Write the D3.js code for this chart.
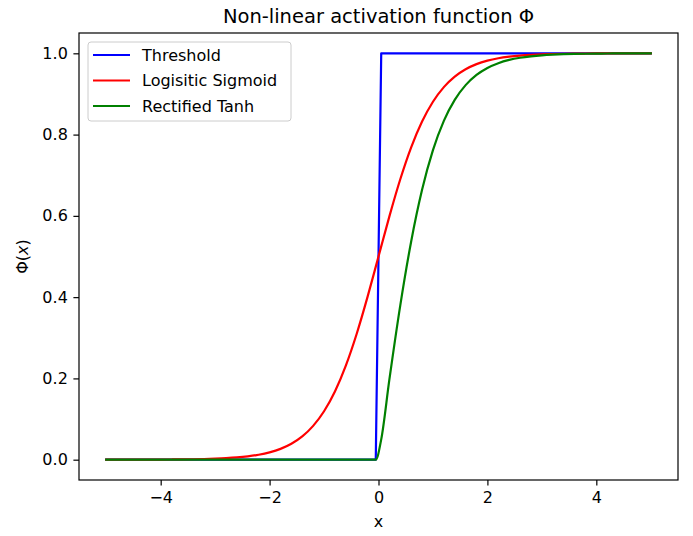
<!DOCTYPE html>
<html>
<head>
<meta charset="utf-8">
<script src="https://cdn.jsdelivr.net/npm/d3@7"></script>
<style>
  body { margin: 0; background: #fff; }
  svg { display: block; }
</style>
</head>
<body>
<svg id="chart" width="693" height="536"></svg>
<script>
// Values
const xValues = [
    -5, -4.8, -4.6, -4.4, -4.2, -4, -3.8, -3.6, -3.4, -3.2, -3, -2.8, -2.6, -2.4, -2.2,
    -2, -1.8, -1.6, -1.4, -1.2, -1, -0.8, -0.6, -0.4, -0.2, -0.05,
    0.05, 0.2, 0.4, 0.6, 0.8, 1, 1.2, 1.4, 1.6, 1.8, 2, 2.2, 2.4, 2.6, 2.8,
    3, 3.2, 3.4, 3.6, 3.8, 4, 4.2, 4.4, 4.6, 4.8, 5
];
const thresholdValues = [
    0, 0, 0, 0, 0, 0, 0, 0, 0, 0, 0, 0, 0, 0, 0,
    0, 0, 0, 0, 0, 0, 0, 0, 0, 0, 0,
    1, 1, 1, 1, 1, 1, 1, 1, 1, 1, 1, 1, 1, 1, 1,
    1, 1, 1, 1, 1, 1, 1, 1, 1, 1, 1
];
const sigmoidValues = [
    0.0000, 0.0001, 0.0001, 0.0002, 0.0002, 0.0003, 0.0005, 0.0007, 0.0011, 0.0017, 0.0025, 0.0037, 0.0055, 0.0082, 0.0121,
    0.0180, 0.0266, 0.0392, 0.0573, 0.0832, 0.1192, 0.1680, 0.2315, 0.3100, 0.4013, 0.4750,
    0.5250, 0.5987, 0.6900, 0.7685, 0.8320, 0.8808, 0.9168, 0.9427, 0.9608, 0.9734, 0.9820, 0.9879, 0.9918, 0.9945, 0.9963,
    0.9975, 0.9983, 0.9989, 0.9993, 0.9995, 0.9997, 0.9998, 0.9998, 0.9999, 0.9999, 1.0000
];
const tanhValues = [
    0, 0, 0, 0, 0, 0, 0, 0, 0, 0, 0, 0, 0, 0, 0,
    0, 0, 0, 0, 0, 0, 0, 0, 0, 0, 0,
    0.0500, 0.1974, 0.3799, 0.5370, 0.6640, 0.7616, 0.8337, 0.8854, 0.9217, 0.9468, 0.9640, 0.9757, 0.9837, 0.9890, 0.9926,
    0.9951, 0.9967, 0.9978, 0.9985, 0.9990, 0.9993, 0.9996, 0.9997, 0.9998, 0.9999, 0.9999
];
const xTicks = [-4, -2, 0, 2, 4];
const yTicks = [0, 0.2, 0.4, 0.6, 0.8, 1.0];

const seriesNames = ["Threshold", "Logisitic Sigmoid", "Rectified Tanh"];
const seriesColors = ["#0000ff", "#ff0000", "#008000"];

const width = 693, height = 536;
const margin = { top: 33, right: 15, bottom: 56, left: 79 };
const innerWidth = width - margin.left - margin.right;
const innerHeight = height - margin.top - margin.bottom;
const font_family = "DejaVu Sans";
const font_size = 16;

const svg = d3.select("#chart");
const g = svg.append("g")
    .attr("transform", `translate(${margin.left}, ${margin.top})`);

// Scales (matplotlib style 5% margins)
const xScale = d3.scaleLinear().domain([-5.5, 5.5]).range([0, innerWidth]);
const yScale = d3.scaleLinear().domain([-0.05, 1.05]).range([innerHeight, 0]);

// Lines
const series = [
    { values: thresholdValues, curve: d3.curveLinear },
    { values: sigmoidValues, curve: d3.curveMonotoneX },
    { values: tanhValues, curve: d3.curveMonotoneX }
];

g.append("clipPath").attr("id", "plot-clip")
    .append("rect").attr("width", innerWidth).attr("height", innerHeight);

series.forEach((s, i) => {
    const line = d3.line()
        .x((d, j) => xScale(xValues[j]))
        .y(d => yScale(d))
        .curve(s.curve);
    g.append("path")
        .datum(s.values)
        .attr("clip-path", "url(#plot-clip)")
        .attr("fill", "none")
        .attr("stroke", seriesColors[i])
        .attr("stroke-width", 2.2)
        .attr("stroke-linejoin", "round")
        .attr("stroke-linecap", "square")
        .attr("d", line);
});

// Axes
const xAxis = g.append("g")
    .attr("transform", `translate(0, ${innerHeight})`)
    .call(d3.axisBottom(xScale).tickValues(xTicks).tickSize(5.6).tickPadding(5.6)
        .tickFormat(d => d < 0 ? "\u2212" + Math.abs(d) : d));

const yAxis = g.append("g")
    .call(d3.axisLeft(yScale).tickValues(yTicks).tickSize(5.6).tickPadding(5.6)
        .tickFormat(d3.format(".1f")));

[xAxis, yAxis].forEach(ax => {
    ax.select(".domain").remove();
    ax.selectAll("line").attr("stroke", "#000").attr("stroke-width", 1.2);
    ax.selectAll("text")
        .attr("fill", "#000")
        .style("font-family", font_family)
        .style("font-size", font_size + "px");
});

// Frame
g.append("rect")
    .attr("width", innerWidth)
    .attr("height", innerHeight)
    .attr("fill", "none")
    .attr("stroke", "#000")
    .attr("stroke-width", 1.2);

// Title
svg.append("text")
    .attr("x", margin.left + innerWidth / 2)
    .attr("y", 23)
    .attr("text-anchor", "middle")
    .attr("font-family", font_family)
    .attr("font-size", 19.5)
    .attr("fill", "#000")
    .text("Non-linear activation function \u03a6");

// X label
svg.append("text")
    .attr("x", margin.left + innerWidth / 2)
    .attr("y", 527)
    .attr("text-anchor", "middle")
    .attr("font-family", font_family)
    .attr("font-size", font_size)
    .attr("fill", "#000")
    .text("x");

// Y label
const yLabel = svg.append("text")
    .attr("transform", `translate(28, ${margin.top + innerHeight / 2}) rotate(-90)`)
    .attr("text-anchor", "middle")
    .attr("font-family", font_family)
    .attr("font-size", font_size)
    .attr("fill", "#000");
yLabel.append("tspan").text("\u03a6(");
yLabel.append("tspan").attr("font-style", "italic").text("x");
yLabel.append("tspan").text(")");

// Legend
const legend = svg.append("g").attr("transform", "translate(88, 42)");
legend.append("rect")
    .attr("width", 203)
    .attr("height", 79)
    .attr("rx", 3)
    .attr("fill", "#fff")
    .attr("fill-opacity", 0.8)
    .attr("stroke", "#cccccc")
    .attr("stroke-width", 1);

const items = legend.selectAll(".legend-item")
    .data(seriesNames)
    .enter()
    .append("g")
    .attr("class", "legend-item")
    .attr("transform", (d, i) => `translate(0, ${13 + i * 25.5})`);

items.append("line")
    .attr("x1", 5).attr("x2", 42)
    .attr("stroke", (d, i) => seriesColors[i])
    .attr("stroke-width", 2.2);

items.append("text")
    .attr("x", 54)
    .attr("dy", "0.35em")
    .attr("font-family", font_family)
    .attr("font-size", font_size)
    .attr("fill", "#000")
    .text(d => d);
</script>
</body>
</html>
